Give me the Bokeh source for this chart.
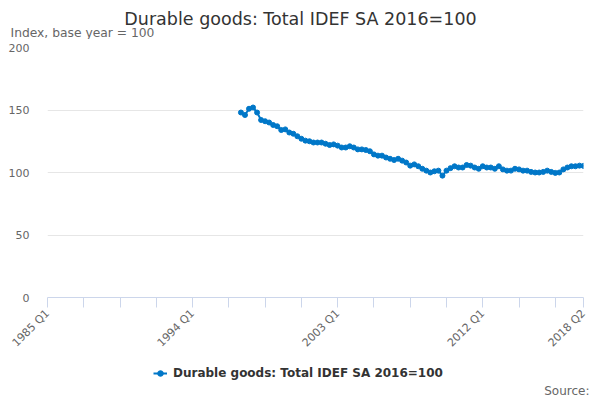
import math
from bokeh.plotting import figure
from bokeh.layouts import column, row
from bokeh.models import Range1d, FixedTicker, Legend, LegendItem, Label, ColumnDataSource
from bokeh.embed import file_html
from bokeh.resources import INLINE

# ---- data ----
title_text = "Durable goods: Total IDEF SA 2016=100"
subtitle_text = "Index, base year = 100"
series_name = "Durable goods: Total IDEF SA 2016=100"
source_text = "Source:"

years = list(range(1985, 2019))
quarters = [f"{y} Q{q}" for y in years for q in (1, 2, 3, 4)][:134]  # 1985 Q1 .. 2018 Q2

series_start = "1997 Q1"
values = [
    148.0, 146.0, 151.0, 152.0,   # 1997
    148.0, 142.0, 141.0, 140.0,   # 1998
    138.0, 137.0, 134.0, 134.5,   # 1999
    132.0, 131.0, 129.0, 127.0,   # 2000
    125.5, 125.0, 124.0, 124.0,   # 2001
    124.0, 123.0, 122.0, 122.5,   # 2002
    121.5, 120.0, 120.0, 121.0,   # 2003
    120.0, 118.5, 118.5, 118.0,   # 2004
    117.0, 114.5, 113.5, 113.5,   # 2005
    112.0, 111.0, 110.0, 111.0,   # 2006
    109.5, 108.0, 105.5, 106.5,   # 2007
    105.0, 103.0, 101.5, 100.0,   # 2008
    101.0, 101.5, 97.5, 101.5,    # 2009
    103.5, 105.0, 104.0, 104.0,   # 2010
    106.0, 105.5, 104.0, 103.0,   # 2011
    105.0, 104.0, 104.0, 103.0,   # 2012
    105.0, 102.5, 101.5, 101.5,   # 2013
    103.0, 102.5, 101.5, 101.5,   # 2014
    100.5, 100.0, 100.0, 100.5,   # 2015
    101.5, 100.5, 99.7, 100.0,    # 2016
    102.5, 104.0, 105.0, 105.0,   # 2017
    105.5, 105.3,                 # 2018
]
tick_step = 9
labelled_ticks = ["1985 Q1", "1994 Q1", "2003 Q1", "2012 Q1", "2018 Q2"]
y_ticks = [0, 50, 100, 150, 200]

# ---- build ----
start = quarters.index(series_start)
xs = [start + i for i in range(len(values))]
src = ColumnDataSource(dict(x=xs, y=values))

W = 600
H_HEAD = 39
H_MAIN = 320
H_FOOT = 41
color = "#0077c8"


def blank(height):
    f = figure(width=W, height=height, output_backend="svg", toolbar_location=None,
               x_range=Range1d(-10, -9), y_range=Range1d(-10, -9),
               x_axis_type=None, y_axis_type=None,
               min_border_left=0, min_border_right=0, min_border_top=0, min_border_bottom=0)
    f.outline_line_color = None
    f.grid.grid_line_color = None
    f.background_fill_color = "white"
    f.border_fill_color = "white"
    return f


# header: title + subtitle
head = blank(H_HEAD)
head.add_layout(Label(x=300, y=21, x_units="screen", y_units="screen", text=title_text,
                      text_align="center", text_baseline="middle", text_font="DejaVu Sans",
                      text_font_size="17.5px", text_color="#333333"))
head.add_layout(Label(x=10, y=7, x_units="screen", y_units="screen", text=subtitle_text,
                      text_align="left", text_baseline="middle", text_font="DejaVu Sans",
                      text_font_size="12.3px", text_color="#666666"))

# main chart
p = figure(width=W, height=H_MAIN, output_backend="svg", toolbar_location=None,
           x_range=Range1d(0, len(quarters) - 1), y_range=Range1d(0, 200),
           min_border_left=47, min_border_right=17, min_border_top=8, min_border_bottom=62)
p.outline_line_color = None
p.background_fill_color = "white"
p.border_fill_color = "white"

p.line("x", "y", source=src, line_color=color, line_width=2)
p.scatter("x", "y", source=src, size=5, fill_color=color, line_color=color)

tick_idx = list(range(0, len(quarters), tick_step))
if tick_idx[-1] != len(quarters) - 1:
    tick_idx.append(len(quarters) - 1)
xa = p.xaxis[0]
xa.ticker = FixedTicker(ticks=tick_idx)
xa.major_label_overrides = {i: (quarters[i] if quarters[i] in labelled_ticks else "") for i in tick_idx}
xa.major_label_orientation = math.pi / 4
xa.axis_line_color = "#ccd6eb"
xa.major_tick_line_color = "#ccd6eb"
xa.major_tick_out = 10
xa.major_tick_in = 0
xa.minor_tick_line_color = None
xa.major_label_text_font = "DejaVu Sans"
xa.major_label_text_font_size = "11px"
xa.major_label_text_color = "#666666"
xa.major_label_standoff = 4

ya = p.yaxis[0]
ya.ticker = FixedTicker(ticks=y_ticks)
ya.axis_line_color = None
ya.major_tick_line_color = None
ya.major_tick_out = 0
ya.major_tick_in = 0
ya.minor_tick_line_color = None
ya.major_label_text_font = "DejaVu Sans"
ya.major_label_text_font_size = "11px"
ya.major_label_text_color = "#666666"
ya.major_label_standoff = 18

p.xgrid.grid_line_color = None
p.ygrid.grid_line_color = "#e6e6e6"
p.ygrid.ticker = FixedTicker(ticks=y_ticks)

# footer: legend + source
foot = blank(H_FOOT)
lr = foot.line("x", "y", source=src, line_color=color, line_width=2)
sr = foot.scatter("x", "y", source=src, size=5, fill_color=color, line_color=color)
legend = Legend(items=[LegendItem(label=series_name, renderers=[lr, sr])],
                location=(153, 20), orientation="horizontal",
                label_text_font="DejaVu Sans", label_text_font_size="12px",
                label_text_font_style="bold", label_text_color="#333333",
                glyph_width=14, glyph_height=14, label_height=14, label_standoff=6,
                padding=0, margin=0, border_line_alpha=0, background_fill_alpha=0)
foot.add_layout(legend)
foot.add_layout(Label(x=589, y=10, x_units="screen", y_units="screen", text=source_text,
                      text_align="right", text_baseline="middle", text_font="DejaVu Sans",
                      text_font_size="12px", text_color="#666666"))

layout = column(row(head), p, row(foot), spacing=0)
open("out.html", "w").write(file_html(layout, INLINE))
